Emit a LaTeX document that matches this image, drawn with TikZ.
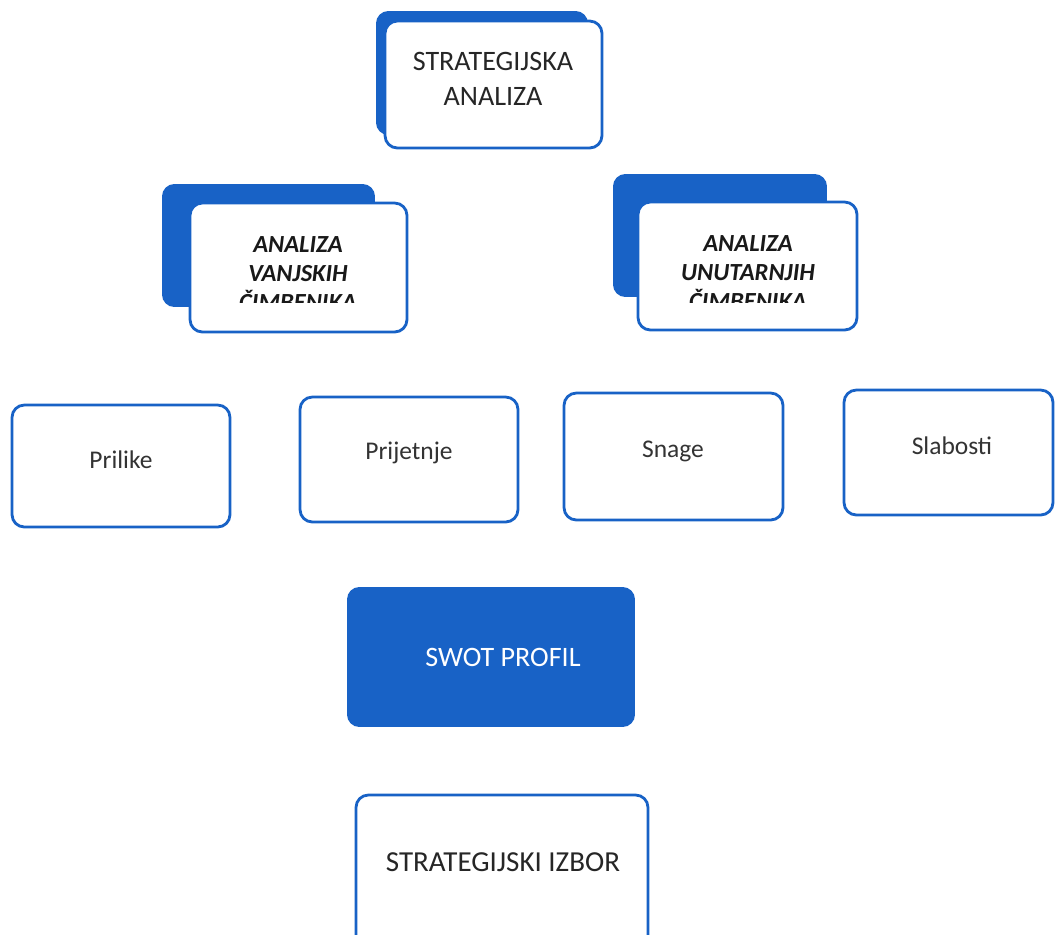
\documentclass[tikz,border=0pt]{standalone}
\usepackage{fontspec}
\setmainfont{Carlito}
\usetikzlibrary{positioning}
\definecolor{swotblue}{RGB}{24,98,198}
\tikzset{
box/.style={draw=swotblue, line width=1.6pt, rounded corners=7pt, fill=white, inner sep=0pt},
backbox/.style={fill=swotblue, rounded corners=7pt, inner sep=0pt},
head/.style={font=\fontsize{14}{16.5}\selectfont\bfseries\itshape, align=center, inner sep=0pt, text=black!90},
item/.style={font=\fontsize{14.5}{17}\selectfont, text=black!80, inner sep=0pt},
}

\begin{document}
\begin{tikzpicture}[x=0.02cm, y=-0.02cm]
\clip (0,0) rectangle (1055,934);
    \node[backbox, minimum width=4.24cm, minimum height=2.48cm] (sa0) at (482,73) {};
    \node[box, minimum width=4.34cm, minimum height=2.54cm] (sa) at (493.5,84.5) {};
    \node[align=center, font=\fontsize{16}{19.5}\selectfont, text=black!85] (satext) at (493,79) {STRATEGIJSKA\\ANALIZA};

    \node[backbox, minimum width=4.26cm, minimum height=2.46cm] (vc0) at (268.5,245.5) {};
    \node[box, minimum width=4.34cm, minimum height=2.58cm] (vc) at (298.5,267.5) {};
    \node[backbox, minimum width=4.28cm, minimum height=2.46cm] (uc0) at (720,235.5) {};
    \node[box, minimum width=4.38cm, minimum height=2.56cm] (uc) at (747.5,266) {};
    \begin{scope}
        \clip (150,150) rectangle (880,302);
        \node[head] (vctext) at (298,274) {ANALIZA\\VANJSKIH\\ČIMBENIKA};
        \node[head] (uctext) at (748,273) {ANALIZA\\UNUTARNJIH\\ČIMBENIKA};
    \end{scope}

    \node[box, minimum width=4.36cm, minimum height=2.44cm] (op) at (121,466) {};
    \node[box, minimum width=4.36cm, minimum height=2.5cm] (th) at (409,459.5) {};
    \node[box, minimum width=4.38cm, minimum height=2.54cm] (st) at (673.5,456.5) {};
    \node[box, minimum width=4.18cm, minimum height=2.5cm] (we) at (948.5,452.5) {};
    \node[item] (optext) at (121,460) {Prilike};
    \node[item] (thtext) at (409,453) {Prijetnje};
    \node[item] (sttext) at (673,451) {Snage};
    \node[item] (wetext) at (952,446) {Slabosti};

    \node[backbox, minimum width=5.76cm, minimum height=2.8cm] (swot) at (491,657) {};
    \node[text=white, font=\fontsize{16}{19}\selectfont] (swottext) at (503,657) {SWOT PROFIL};

    \node[box, minimum width=5.84cm, minimum height=3.2cm] (izbor) at (502,875) {};
    \node[text=black!85, font=\fontsize{16.5}{20}\selectfont] (izbortext) at (503,862) {STRATEGIJSKI IZBOR};
\end{tikzpicture}
\end{document}
